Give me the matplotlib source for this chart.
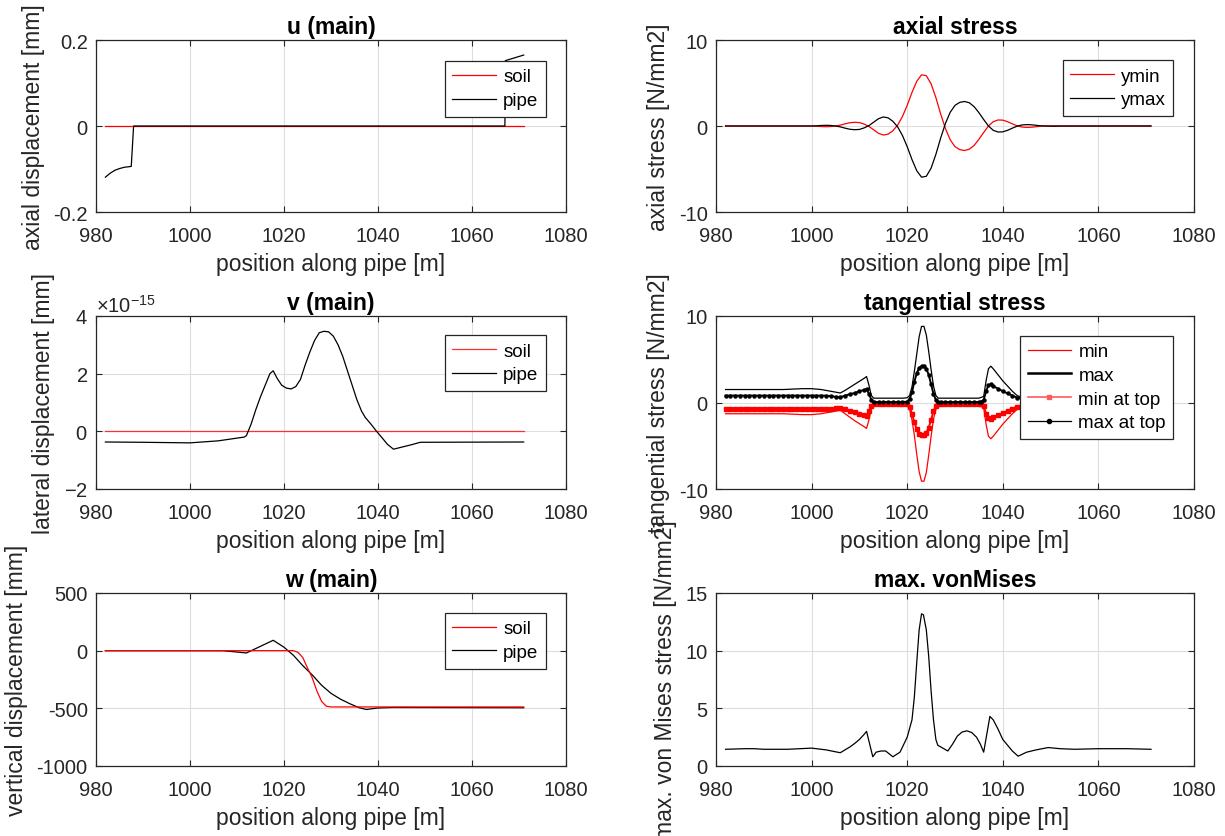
import matplotlib
matplotlib.use("Agg")
import matplotlib.pyplot as plt
from matplotlib.lines import Line2D
from matplotlib.ticker import FuncFormatter, ScalarFormatter
import numpy as np

# ---------------- data ----------------
x_ticks = [980, 1000, 1020, 1040, 1060, 1080]
x_label = "position along pipe [m]"

# u (main)
u_soil_x = [982, 1071]
u_soil = [0.0, 0.0]
u_pipe_x = [982, 983, 984, 985, 986, 987.5, 988, 1067, 1067.1, 1071]
u_pipe = [-0.119, -0.110, -0.103, -0.099, -0.096, -0.094, 0.0, 0.0, 0.152, 0.165]

# v (main), in units of 1e-15 mm
v_soil_x = [982, 1071]
v_soil = [0.0, 0.0]
v_pipe_x = [982, 990, 1000, 1006, 1011.5, 1012, 1013, 1014, 1015, 1016, 1017, 1017.7,
            1018.5, 1019.5, 1020.5, 1021.5, 1022.5, 1023.5, 1024.5, 1025.5, 1026.5,
            1027.5, 1028.5, 1029.5, 1030.5, 1031.5, 1032.5, 1033.5, 1034.5, 1035.5,
            1036.5, 1037.3, 1038.5, 1039.7, 1041, 1042, 1043.3, 1045, 1047, 1049, 1071]
v_pipe = [-0.37, -0.38, -0.40, -0.33, -0.20, -0.15, 0.25, 0.75, 1.20, 1.60, 2.00, 2.10,
          1.85, 1.60, 1.50, 1.47, 1.55, 1.80, 2.30, 2.75, 3.15,
          3.42, 3.47, 3.45, 3.30, 3.00, 2.60, 2.10, 1.60, 1.10,
          0.70, 0.48, 0.25, 0.00, -0.25, -0.45, -0.62, -0.55, -0.47, -0.38, -0.37]
v_scale = 1e-15

# w (main)
w_soil_x = [982, 1022, 1023, 1024, 1025, 1026, 1027, 1028, 1029, 1030, 1071]
w_soil = [0, 0, -15, -60, -150, -235, -350, -440, -482, -488, -488]
w_pipe_x = [982, 1007, 1012, 1017.7, 1020, 1022, 1024, 1026, 1028, 1030, 1032, 1034,
            1036, 1037.5, 1040, 1043, 1071]
w_pipe = [0, 0, -20, 90, 30, -40, -130, -210, -300, -370, -420, -460,
          -495, -510, -497, -493, -495]

# axial stress
ax_x = [982, 1000, 1001, 1002, 1003, 1004, 1005, 1006, 1007, 1008, 1009, 1010, 1011,
        1012, 1013, 1014, 1015, 1016, 1017, 1018, 1019, 1020, 1021, 1022, 1023, 1024,
        1025, 1026, 1027, 1028, 1029, 1030, 1031, 1032, 1033, 1034, 1035, 1036, 1037,
        1038, 1039, 1040, 1041, 1042, 1043, 1044, 1045, 1046, 1047, 1048, 1049, 1050,
        1051, 1052, 1071]
ax_ymax = [0, 0, 0.02, 0.06, 0.08, 0.06, 0.0, -0.10, -0.25, -0.38, -0.43, -0.40, -0.22,
           0.05, 0.45, 0.85, 1.05, 0.95, 0.55, -0.10, -1.10, -2.40, -3.90, -5.20, -5.95, -5.85,
           -4.90, -3.30, -1.40, 0.30, 1.60, 2.40, 2.75, 2.85, 2.70, 2.25, 1.55, 0.75, 0.0,
           -0.50, -0.70, -0.68, -0.50, -0.25, -0.02, 0.12, 0.16, 0.14, 0.08, 0.02, 0.0, -0.02,
           -0.03, -0.01, 0]
ax_ymin = [0, 0, -0.02, -0.06, -0.08, -0.06, 0.0, 0.10, 0.25, 0.38, 0.43, 0.40, 0.22,
           -0.05, -0.45, -0.85, -1.05, -0.95, -0.55, 0.10, 1.10, 2.40, 3.90, 5.20, 5.95, 5.85,
           4.90, 3.30, 1.40, -0.30, -1.60, -2.40, -2.75, -2.85, -2.70, -2.25, -1.55, -0.75, 0.0,
           0.50, 0.70, 0.68, 0.50, 0.25, 0.02, -0.12, -0.16, -0.14, -0.08, -0.02, 0.0, 0.02,
           0.03, 0.01, 0]

# tangential stress
t_x = [982, 983, 984, 985, 986, 987, 988, 989, 990, 991, 992, 993, 994, 995, 996, 997,
       998, 999, 1000, 1001, 1002, 1003, 1004,
       1005, 1006, 1007, 1008, 1009, 1010, 1011,
       1011.5, 1012, 1012.5,
       1013, 1014, 1015, 1016, 1017, 1018, 1019, 1020,
       1020.5, 1021, 1021.5, 1022, 1022.5, 1023, 1023.5, 1024, 1024.5, 1025, 1025.5, 1026, 1026.5,
       1027, 1028, 1029, 1030, 1031, 1032, 1033, 1034, 1035,
       1035.5, 1036, 1036.5, 1037, 1037.5,
       1038, 1039, 1040, 1041, 1042, 1043, 1044, 1045, 1046,
       1048, 1050, 1052, 1054, 1056, 1058, 1060, 1062, 1064, 1066, 1068, 1070, 1071]
t_max = [1.5, 1.5, 1.5, 1.5, 1.5, 1.5, 1.5, 1.5, 1.5, 1.5, 1.5, 1.5, 1.5, 1.52, 1.55, 1.57,
         1.6, 1.6, 1.6, 1.55, 1.5, 1.4, 1.3,
         1.2, 1.1, 1.4, 1.75, 2.1, 2.45, 2.8,
         3.0, 2.0, 0.8,
         0.5, 0.5, 0.5, 0.5, 0.5, 0.5, 0.5, 0.55,
         0.8, 1.8, 3.6, 5.6, 7.6, 8.8, 8.8, 7.8, 5.9, 3.8, 1.9, 0.8, 0.5,
         0.5, 0.5, 0.5, 0.5, 0.5, 0.5, 0.5, 0.5, 0.5,
         0.6, 0.7, 2.5, 3.9, 4.2,
         3.9, 3.2, 2.5, 1.9, 1.3, 0.8, 0.6, 0.6, 0.7,
         1.0, 1.3, 1.5, 1.5, 1.5, 1.5, 1.5, 1.5, 1.5, 1.5, 1.5, 1.5, 1.5]
t_min = [-1.3, -1.3, -1.3, -1.3, -1.3, -1.3, -1.3, -1.3, -1.3, -1.3, -1.3, -1.3, -1.3, -1.32, -1.35, -1.37,
         -1.4, -1.4, -1.4, -1.35, -1.3, -1.2, -1.1,
         -1.0, -0.9, -1.3, -1.7, -2.1, -2.45, -2.8,
         -3.0, -2.0, -0.7,
         -0.4, -0.35, -0.35, -0.35, -0.35, -0.35, -0.35, -0.4,
         -0.8, -2.0, -3.8, -6.0, -8.0, -9.1, -9.1, -8.1, -6.1, -3.9, -1.9, -0.8, -0.4,
         -0.35, -0.35, -0.35, -0.35, -0.35, -0.35, -0.35, -0.35, -0.35,
         -0.45, -0.6, -2.5, -3.9, -4.2,
         -3.9, -3.2, -2.5, -1.9, -1.3, -0.8, -0.6, -0.6, -0.7,
         -1.0, -1.2, -1.3, -1.3, -1.3, -1.3, -1.3, -1.3, -1.3, -1.3, -1.3, -1.3, -1.3]
t_max_top = [0.8, 0.8, 0.8, 0.8, 0.8, 0.8, 0.8, 0.8, 0.8, 0.8, 0.8, 0.8, 0.8, 0.8, 0.8, 0.8,
             0.8, 0.8, 0.8, 0.8, 0.8, 0.78, 0.75,
             0.65, 0.6, 0.8, 0.95, 1.1, 1.3, 1.45,
             1.55, 1.0, 0.3,
             0.05, 0.05, 0.05, 0.05, 0.05, 0.05, 0.05, 0.1,
             0.4, 1.2, 2.4, 3.4, 4.0, 4.2, 4.2, 3.9, 3.2, 2.1, 1.0, 0.3, 0.05,
             0.05, 0.05, 0.05, 0.05, 0.05, 0.05, 0.05, 0.05, 0.05,
             0.1, 0.3, 1.3, 2.0, 2.1,
             1.9, 1.6, 1.3, 1.05, 0.8, 0.55, 0.45, 0.45, 0.5,
             0.6, 0.7, 0.8, 0.8, 0.8, 0.8, 0.8, 0.8, 0.8, 0.8, 0.8, 0.8, 0.8]
t_min_top = [-0.8, -0.8, -0.8, -0.8, -0.8, -0.8, -0.8, -0.8, -0.8, -0.8, -0.8, -0.8, -0.8, -0.8, -0.8, -0.8,
             -0.8, -0.8, -0.8, -0.8, -0.8, -0.78, -0.75,
             -0.65, -0.6, -0.8, -0.95, -1.1, -1.3, -1.45,
             -1.55, -1.0, -0.35,
             -0.15, -0.15, -0.15, -0.15, -0.15, -0.15, -0.15, -0.2,
             -0.5, -1.3, -2.3, -3.1, -3.6, -3.75, -3.75, -3.5, -2.9, -2.0, -1.0, -0.4, -0.15,
             -0.15, -0.15, -0.15, -0.15, -0.15, -0.15, -0.15, -0.15, -0.15,
             -0.2, -0.4, -1.3, -1.8, -1.85,
             -1.7, -1.45, -1.2, -0.95, -0.7, -0.5, -0.35, -0.35, -0.4,
             -0.5, -0.65, -0.8, -0.8, -0.8, -0.8, -0.8, -0.8, -0.8, -0.8, -0.8, -0.8, -0.8]

# max. von Mises
vm_x = [982, 986, 988, 990, 995, 1000, 1003, 1006, 1007, 1008, 1009, 1010, 1011, 1011.5,
        1012.8, 1013.5, 1014.5, 1015.5, 1017, 1018.5, 1020, 1021, 1021.5, 1022, 1022.5,
        1023, 1023.4, 1024, 1024.5, 1025, 1025.5, 1026, 1026.4, 1028.5, 1029.5, 1030.5,
        1031.5, 1032.5, 1033.5, 1034.5, 1035.3, 1036, 1037.3, 1038, 1039, 1040, 1041, 1042,
        1043.2, 1045, 1047, 1049.5, 1052, 1055, 1060, 1066, 1071]
vm = [1.45, 1.5, 1.5, 1.45, 1.45, 1.55, 1.4, 1.15, 1.4, 1.65, 1.95, 2.3, 2.75, 3.0,
      0.8, 1.2, 1.3, 1.3, 0.8, 1.2, 2.5, 4.0, 6.0, 9.0, 11.8,
      13.2, 13.1, 11.8, 9.5, 6.5, 4.0, 2.3, 1.8, 1.3, 1.9, 2.6,
      2.95, 3.05, 2.9, 2.5, 1.9, 1.2, 4.3, 4.0, 3.2, 2.3, 1.8, 1.3,
      0.85, 1.2, 1.4, 1.6, 1.5, 1.45, 1.5, 1.5, 1.45]

# ---------------- style ----------------
plt.rcParams["font.family"] = ["Liberation Sans", "DejaVu Sans"]
plt.rcParams["axes.unicode_minus"] = False
plt.rcParams["mathtext.fontset"] = "custom"
plt.rcParams["mathtext.rm"] = "Liberation Sans"
plt.rcParams["mathtext.it"] = "Liberation Sans:italic"
plt.rcParams["mathtext.default"] = "regular"

DARK = "#262626"
GRID = "#dedede"
TICK_FS = 14.5
LAB_FS = 16.5
LEG_FS = 13.5
LW = 0.9

fig = plt.figure(figsize=(12.25, 8.37), dpi=100)

L_X, L_W = 96 / 1225, 470 / 1225
R_X, R_W = 716 / 1225, 478 / 1225
rows = [(1 - 213 / 837, 172 / 837), (1 - 490 / 837, 173 / 837), (1 - 767 / 837, 173 / 837)]

def make_ax(col, row):
    x0, w = (L_X, L_W) if col == 0 else (R_X, R_W)
    y0, h = rows[row]
    ax = fig.add_axes([x0, y0, w, h])
    ax.set_xlim(980, 1080)
    ax.set_xticks(x_ticks)
    ax.grid(True, color=GRID, linewidth=0.8)
    ax.set_axisbelow(True)
    for s in ax.spines.values():
        s.set_color(DARK)
        s.set_linewidth(0.9)
    ax.tick_params(direction="in", length=4, width=0.8, top=True, right=True,
                   labelsize=TICK_FS, colors=DARK)
    ax.tick_params(axis="x", pad=10)
    ax.tick_params(axis="y", pad=6)
    ax.set_xlabel(x_label, fontsize=LAB_FS, color=DARK, labelpad=5)
    return ax

fmt_g = FuncFormatter(lambda v, p: "%g" % v)

def legend(ax, handles=None, labels=None, top=0.885):
    kw = dict(loc="upper right", bbox_to_anchor=(0.957, top), borderaxespad=0,
              fontsize=LEG_FS, fancybox=False, framealpha=1, edgecolor=DARK,
              handlelength=2.3, handletextpad=0.4, labelspacing=0.35, borderpad=0.4)
    if handles is not None:
        leg = ax.legend(handles, labels, **kw)
    else:
        leg = ax.legend(**kw)
    leg.get_frame().set_linewidth(0.9)
    return leg

# u (main)
ax = make_ax(0, 0)
ax.plot(u_soil_x, u_soil, color="red", lw=LW, label="soil")
ax.plot(u_pipe_x, u_pipe, color="black", lw=LW, label="pipe")
ax.set_ylim(-0.2, 0.2)
ax.set_yticks([-0.2, 0, 0.2])
ax.yaxis.set_major_formatter(fmt_g)
ax.set_title("u (main)", fontsize=LAB_FS, fontweight="bold", pad=5)
ax.set_ylabel("axial displacement [mm]", fontsize=LAB_FS, color=DARK, labelpad=6)
legend(ax, top=0.879)

# axial stress
ax = make_ax(1, 0)
ax.plot(ax_x, ax_ymin, color="red", lw=LW, label="ymin")
ax.plot(ax_x, ax_ymax, color="black", lw=LW, label="ymax")
ax.set_ylim(-10, 10)
ax.set_yticks([-10, 0, 10])
ax.yaxis.set_major_formatter(fmt_g)
ax.set_title("axial stress", fontsize=LAB_FS, fontweight="bold", pad=5)
ax.set_ylabel("axial stress [N/mm2]", fontsize=LAB_FS, color=DARK, labelpad=6)
legend(ax, top=0.884)

# v (main)
ax = make_ax(0, 1)
ax.plot(v_soil_x, np.array(v_soil) * v_scale, color="#ff3030", lw=LW, label="soil")
ax.plot(v_pipe_x, np.array(v_pipe) * v_scale, color="black", lw=LW, label="pipe")
ax.set_ylim(-2e-15, 4e-15)
ax.set_yticks([-2e-15, 0, 2e-15, 4e-15])
sf = ScalarFormatter(useMathText=True)
sf.set_powerlimits((0, 0))
ax.yaxis.set_major_formatter(sf)
ax.yaxis.get_offset_text().set_fontsize(TICK_FS)
ax.yaxis.get_offset_text().set_color(DARK)
ax.set_title("v (main)", fontsize=LAB_FS, fontweight="bold", pad=5)
ax.set_ylabel("lateral displacement [mm]", fontsize=LAB_FS, color=DARK, labelpad=6)
legend(ax, top=0.89)

# tangential stress
ax = make_ax(1, 1)
ax.plot(t_x, t_min, color="red", lw=LW)
ax.plot(t_x, t_max, color="black", lw=LW)
ax.plot(t_x, t_min_top, color="red", lw=1.4, marker="s", ms=2.2, mec="red", mfc="red")
ax.plot(t_x, t_max_top, color="black", lw=1.4, marker="o", ms=2.2, mec="black", mfc="black")
ax.set_ylim(-10, 10)
ax.set_yticks([-10, 0, 10])
ax.yaxis.set_major_formatter(fmt_g)
ax.set_title("tangential stress", fontsize=LAB_FS, fontweight="bold", pad=5)
ax.set_ylabel("tangential stress [N/mm2]", fontsize=LAB_FS, color=DARK, labelpad=6)
h = [Line2D([], [], color="red", lw=LW),
     Line2D([], [], color="black", lw=1.8),
     Line2D([], [], color="#ff5a5a", lw=1.2, marker="s", ms=3.5),
     Line2D([], [], color="black", lw=LW, marker="o", ms=3)]
legend(ax, h, ["min", "max", "min at top", "max at top"], top=0.886)

# w (main)
ax = make_ax(0, 2)
ax.plot(w_pipe_x, w_pipe, color="black", lw=LW, label="pipe", zorder=2)
ax.plot(w_soil_x, w_soil, color="red", lw=LW, label="soil", zorder=3)
ax.set_ylim(-1000, 500)
ax.set_yticks([-1000, -500, 0, 500])
ax.yaxis.set_major_formatter(fmt_g)
ax.set_title("w (main)", fontsize=LAB_FS, fontweight="bold", pad=5)
ax.set_ylabel("vertical displacement [mm]", fontsize=LAB_FS, color=DARK, labelpad=6)
hh, ll = ax.get_legend_handles_labels()
legend(ax, hh[::-1], ll[::-1], top=0.886)

# max. von Mises
ax = make_ax(1, 2)
ax.plot(vm_x, vm, color="black", lw=LW)
ax.set_ylim(0, 15)
ax.set_yticks([0, 5, 10, 15])
ax.yaxis.set_major_formatter(fmt_g)
ax.set_title("max. vonMises", fontsize=LAB_FS, fontweight="bold", pad=5)
ax.set_ylabel("max. von Mises stress [N/mm2]", fontsize=LAB_FS, color=DARK, labelpad=6)

fig.savefig("out.png", dpi=100)
